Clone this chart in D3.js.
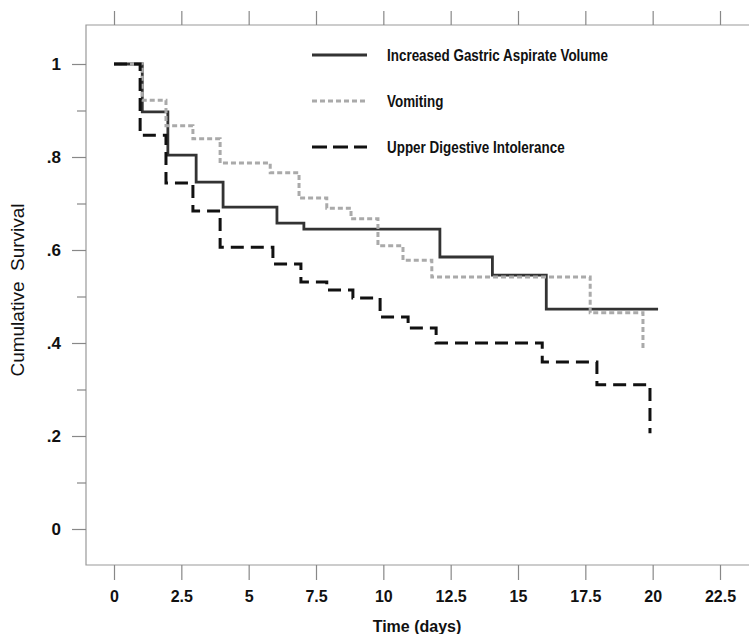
<!DOCTYPE html>
<html>
<head>
<meta charset="utf-8">
<title>Cumulative survival</title>
<script src="https://d3js.org/d3.v7.min.js"></script>
<style>
  body { margin: 0; background: #fff; }
  svg { display: block; font-family: "Liberation Sans", Arial, sans-serif; }
</style>
</head>
<body>
<div id="chart"></div>
<script>
// values (time in days, cumulative survival)
const xTicks = [0, 2.5, 5, 7.5, 10, 12.5, 15, 17.5, 20, 22.5];
const yTicks = [0, .1, .2, .3, .4, .5, .6, .7, .8, .9, 1];
const yLabels = ["0", "", ".2", "", ".4", "", ".6", "", ".8", "", "1"];

const gastricTime = [0, 1.05, 2, 3.05, 4.05, 6.05, 7.05, 12.1, 14.05, 16.05, 20.2];
const gastricSurv = [1, .897, .804, .746, .692, .658, .645, .585, .546, .473, .473];

const vomitTime = [0, 1.05, 1.93, 2.93, 3.94, 5.8, 6.87, 7.9, 8.8, 9.8, 10.73, 11.8, 17.68, 19.64];
const vomitSurv = [1, .922, .867, .839, .787, .766, .712, .69, .667, .609, .578, .542, .465, .389];

const upperTime = [0, .97, 1.93, 2.93, 3.94, 5.9, 6.94, 7.9, 8.87, 9.88, 10.92, 11.96, 15.9, 17.93, 19.9];
const upperSurv = [1, .847, .744, .684, .606, .57, .531, .514, .497, .456, .432, .40, .359, .31, .206];

const seriesNames = ["Increased Gastric Aspirate Volume", "Vomiting", "Upper Digestive Intolerance"];

const W = 749, H = 634;
const frameL = 86, frameT = 25, frameB = 565;

const x = d3.scaleLinear().domain([0, 22.5]).range([114, 720]);
const y = d3.scaleLinear().domain([0, 1]).range([529, 64]);

const svg = d3.select("#chart").append("svg")
  .attr("width", W).attr("height", H);

// frame
svg.append("path")
  .attr("d", `M${W},${frameT}H${frameL}V${frameB}H${W}`)
  .attr("fill", "none").attr("stroke", "#999").attr("stroke-width", 1.2);

// top ticks (no labels)
const topAxis = svg.append("g").attr("transform", `translate(0,${frameT})`)
  .call(d3.axisTop(x).tickValues(xTicks).tickSize(14).tickFormat(""));
topAxis.select(".domain").remove();

// bottom axis
const botAxis = svg.append("g").attr("transform", `translate(0,${frameB})`)
  .call(d3.axisBottom(x).tickValues(xTicks).tickSize(15).tickPadding(11)
    .tickFormat(d => String(d)));
botAxis.select(".domain").remove();
botAxis.selectAll("text").attr("font-size", 16).attr("font-weight", "bold")
  .attr("fill", "#111").attr("font-family", "Liberation Sans, Arial, sans-serif");

// left axis
const yAxis = svg.append("g").attr("transform", `translate(${frameL},0)`)
  .call(d3.axisLeft(y).tickValues(yTicks).tickSize(14).tickPadding(11)
    .tickFormat((d, i) => yLabels[i]));
yAxis.select(".domain").remove();
yAxis.selectAll(".tick").filter((d, i) => i % 2 === 1).select("line").attr("x2", -9);
yAxis.selectAll("text").attr("font-size", 17).attr("font-weight", "bold")
  .attr("fill", "#111").attr("font-family", "Liberation Sans, Arial, sans-serif");

svg.selectAll(".tick line").attr("stroke", "#888").attr("stroke-width", 1.2);

// axis titles
svg.append("text")
  .attr("x", (x(0) + x(22.5)) / 2).attr("y", 632)
  .attr("text-anchor", "middle").attr("font-size", 16).attr("font-weight", "bold")
  .attr("fill", "#111").text("Time (days)");

svg.append("text")
  .attr("transform", "translate(24,290) rotate(-90)")
  .attr("text-anchor", "middle").attr("font-size", 19)
  .attr("fill", "#111")
  .style("white-space", "pre")
  .text("Cumulative  Survival");

// curves
const line = d3.line().curve(d3.curveStepAfter).x(d => x(d[0])).y(d => y(d[1]));
const styles = [
  { stroke: "#333333", width: 2.8, dash: null },
  { stroke: "#aaaaaa", width: 3, dash: "5,3" },
  { stroke: "#111111", width: 3, dash: "13,7" }
];
const series = [
  d3.zip(gastricTime, gastricSurv),
  d3.zip(vomitTime, vomitSurv),
  d3.zip(upperTime, upperSurv)
];

svg.selectAll("path.km").data(series).join("path")
  .attr("class", "km")
  .attr("d", line)
  .attr("fill", "none")
  .attr("stroke", (d, i) => styles[i].stroke)
  .attr("stroke-width", (d, i) => styles[i].width)
  .attr("stroke-dasharray", (d, i) => styles[i].dash);

// legend
const legend = svg.append("g");
seriesNames.forEach((name, i) => {
  const ly = 55 + i * 46;
  legend.append("line")
    .attr("x1", 312).attr("x2", 367).attr("y1", ly).attr("y2", ly)
    .attr("stroke", styles[i].stroke).attr("stroke-width", styles[i].width)
    .attr("stroke-dasharray", i === 2 ? "15,6" : styles[i].dash);
  // condensed look of the original lettering
  legend.append("text")
    .attr("transform", `translate(387,${ly + 6}) scale(0.84,1)`)
    .attr("font-size", 16).attr("font-weight", "bold").attr("fill", "#111")
    .text(name);
});
</script>
</body>
</html>
